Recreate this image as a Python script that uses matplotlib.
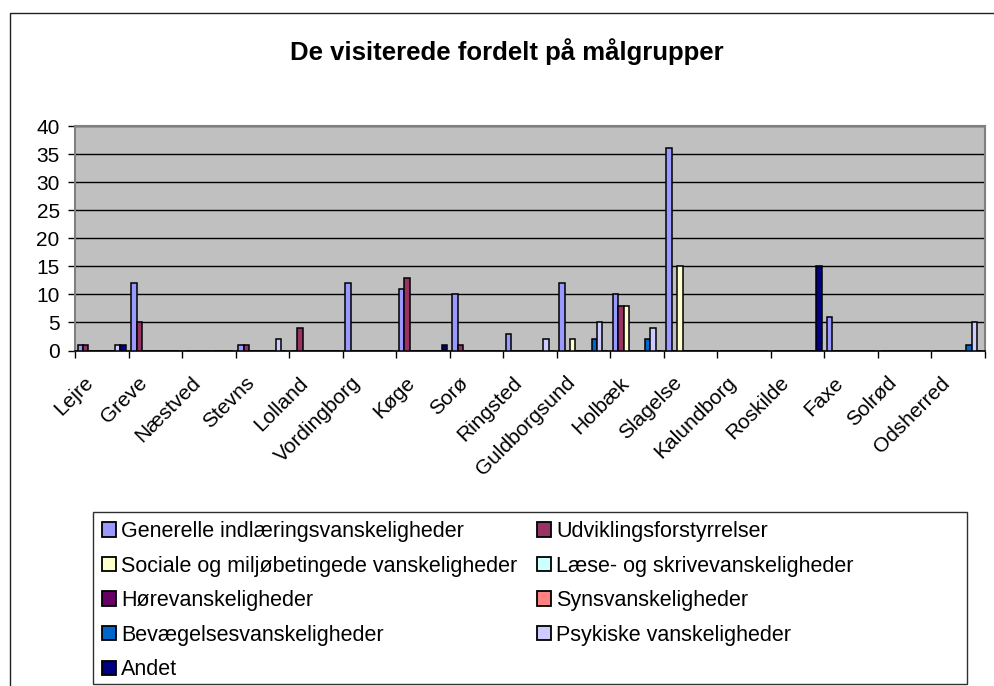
import matplotlib
matplotlib.use("Agg")
import matplotlib.pyplot as plt
from matplotlib.patches import Rectangle, Patch
from matplotlib.transforms import ScaledTranslation
import numpy as np

plt.rcParams['font.family'] = ['Liberation Sans', 'DejaVu Sans']

# --- data -------------------------------------------------------------
kommuner = ['Lejre', 'Greve', 'Næstved', 'Stevns', 'Lolland', 'Vordingborg',
            'Køge', 'Sorø', 'Ringsted', 'Guldborgsund', 'Holbæk', 'Slagelse',
            'Kalundborg', 'Roskilde', 'Faxe', 'Solrød', 'Odsherred']

serier = ['Generelle indlæringsvanskeligheder', 'Udviklingsforstyrrelser',
          'Sociale og miljøbetingede vanskeligheder', 'Læse- og skrivevanskeligheder',
          'Hørevanskeligheder', 'Synsvanskeligheder',
          'Bevægelsesvanskeligheder', 'Psykiske vanskeligheder', 'Andet']

farver = ['#9999FF', '#993366', '#FFFFCC', '#CCFFFF', '#660066',
          '#FF8080', '#0066CC', '#CCCCFF', '#000080']

generelle   = [1, 12, 0, 1, 0, 12, 11, 10, 3, 12, 10, 36, 0, 0, 6, 0, 0]
udvikling   = [1, 5, 0, 1, 4, 0, 13, 1, 0, 0, 8, 0, 0, 0, 0, 0, 0]
sociale     = [0, 0, 0, 0, 0, 0, 0, 0, 0, 2, 8, 15, 0, 0, 0, 0, 0]
laese       = [0] * 17
hoere       = [0] * 17
syn         = [0] * 17
bevaegelse  = [0, 0, 0, 0, 0, 0, 0, 0, 0, 2, 2, 0, 0, 0, 0, 0, 1]
psykiske    = [1, 0, 0, 2, 0, 0, 0, 0, 2, 5, 4, 0, 0, 0, 0, 0, 5]
andet       = [1, 0, 0, 0, 0, 0, 1, 0, 0, 0, 0, 0, 0, 15, 0, 0, 0]

vaerdier = [generelle, udvikling, sociale, laese, hoere, syn,
            bevaegelse, psykiske, andet]

# --- figure -----------------------------------------------------------
W, H = 995, 686
fig = plt.figure(figsize=(W / 100, H / 100), dpi=100)

def fx(px):
    return px / W

def fy(py):
    return 1 - py / H

# chart frame (runs off the right and bottom edge)
fig.patches.append(Rectangle((fx(10), fy(1000)), fx(1200), fy(13) - fy(1000),
                             transform=fig.transFigure, fill=False,
                             edgecolor='#202020', linewidth=1.0))

ax = fig.add_axes([fx(75), fy(350.5), fx(985) - fx(75), fy(126) - fy(350.5)])
ax.set_facecolor('#C0C0C0')

x = np.arange(len(kommuner))
bw = 0.1
for k, (navn, v, c) in enumerate(zip(serier, vaerdier, farver)):
    ax.bar(x + (k - 4) * bw, v, width=bw, color=c, edgecolor='black',
           linewidth=1.1, label=navn, zorder=3)

ax.set_xlim(-0.5, len(kommuner) - 0.5)
ax.set_ylim(0, 40)
ax.set_yticks(range(0, 41, 5))
ax.yaxis.grid(True, color='black', linewidth=1.0, zorder=1)
ax.set_axisbelow(True)

# tick marks on category boundaries, labels on centres
ax.set_xticks(np.arange(-0.5, len(kommuner), 1.0))
ax.set_xticklabels([])
ax.set_xticks(x, minor=True)
ax.set_xticklabels(kommuner, minor=True, rotation=45, ha='right',
                   rotation_mode='anchor', fontsize=15)
ax.tick_params(axis='x', which='minor', length=0, pad=12)
ax.tick_params(axis='x', which='major', length=5, width=1, color='black',
               direction='out')
ax.tick_params(axis='y', length=5, width=1, color='black', labelsize=15, pad=6)

# nudge the slanted category names left and down
skift = ScaledTranslation(-0.18, -0.06, fig.dpi_scale_trans)
for lbl in ax.get_xticklabels(minor=True):
    lbl.set_transform(lbl.get_transform() + skift)

for s in ['top', 'right', 'left']:
    ax.spines[s].set_color('#808080')
    ax.spines[s].set_linewidth(1.5)
ax.spines['bottom'].set_color('black')
ax.spines['bottom'].set_linewidth(1.2)

fig.text(fx(507), fy(52), 'De visiterede fordelt på målgrupper',
         ha='center', va='center', fontsize=18.5, fontweight='bold')

# legend box; entries run row by row over two columns
fig.patches.append(Rectangle((fx(93), fy(684)), fx(967) - fx(93), fy(512) - fy(684),
                             transform=fig.transFigure, fill=True,
                             facecolor='white', edgecolor='#303030',
                             linewidth=1.0, zorder=0))
handles = [Patch(facecolor=c, edgecolor='black', linewidth=1.3, label=n)
           for n, c in zip(serier, farver)]
leg_kw = dict(loc='upper left', frameon=False, fontsize=15.5,
              handlelength=0.65, handleheight=0.65, handletextpad=0.25,
              labelspacing=0.63, borderaxespad=0, borderpad=0)
for cols, x0 in [([0, 2, 4, 6, 8], 102), ([1, 3, 5, 7], 537)]:
    fig.legend([handles[i] for i in cols], [serier[i] for i in cols],
               bbox_to_anchor=(fx(x0), fy(521)), **leg_kw)

fig.savefig('out.png', dpi=100)
